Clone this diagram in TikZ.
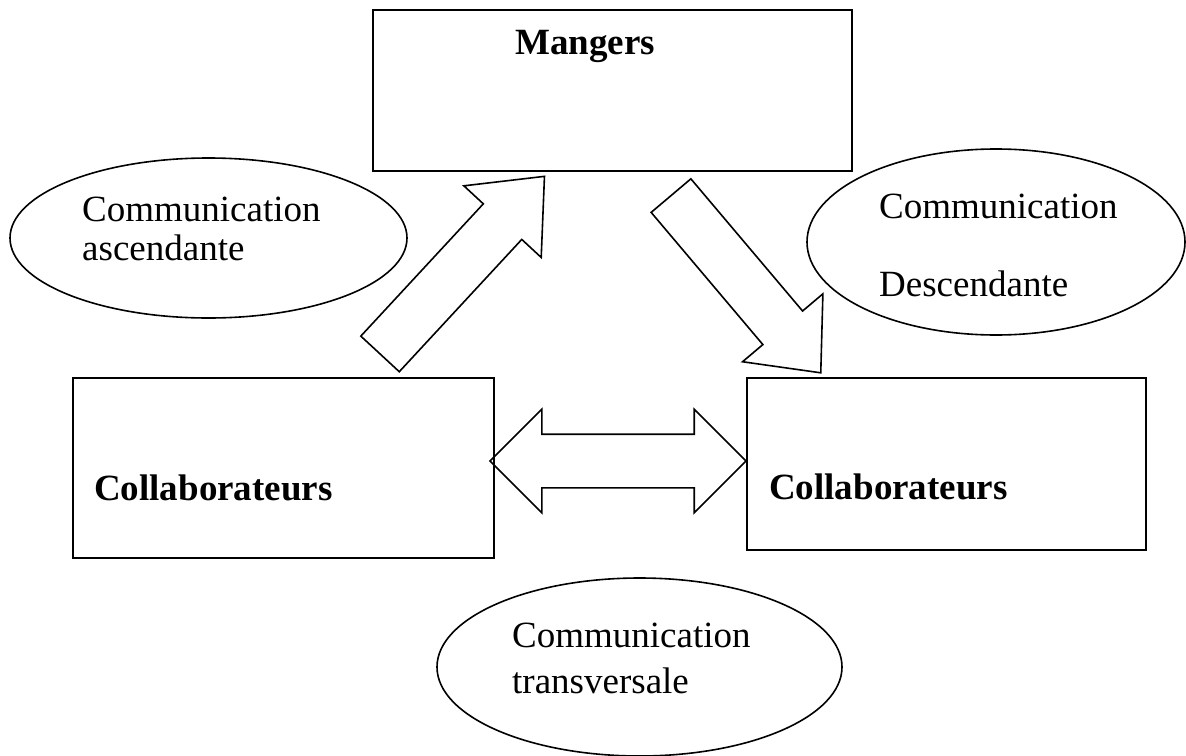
\documentclass[tikz,border=0pt]{standalone}
\usepackage{fontspec}
\setmainfont{Liberation Serif}
\usetikzlibrary{shapes.geometric,shapes.arrows}

\begin{document}
\begin{tikzpicture}[
  x=1pt, y=-1pt,
  every node/.style={font=\fontsize{37}{39}\selectfont, inner sep=0pt},
  unit/.style={draw, rectangle, line width=2pt},
  unitname/.style={font=\fontsize{37}{39}\selectfont\bfseries, anchor=base west},
  bubble/.style={draw, ellipse, line width=1.6pt},
  bubbletext/.style={align=left, anchor=base west},
  flow/.style={draw, line width=1.6pt, inner xsep=0pt}
]
  \useasboundingbox (0,0) rectangle (1186,755);

  % the three groups
  \node[unit, minimum width=479, minimum height=161] (mgr) at (612.5,90.5) {};
  \node[unit, minimum width=421, minimum height=180] (colleft) at (283.5,468) {};
  \node[unit, minimum width=399, minimum height=172] (colright) at (946.5,464) {};

  \node[unitname] (mgrname) at ([shift={(143,45)}]mgr.north west) {Mangers};
  \node[unitname] (colleftname) at ([shift={(22,123)}]colleft.north west) {Collaborateurs};
  \node[unitname] (colrightname) at ([shift={(23,122)}]colright.north west) {Collaborateurs};

  % the three kinds of communication
  \node[bubble, minimum width=397, minimum height=160] (asc) at (208.5,238) {};
  \node[bubble, minimum width=378, minimum height=186] (desc) at (996,242) {};
  \node[bubble, minimum width=405, minimum height=178] (trans) at (639.5,667) {};

  \node[bubbletext] (asctext) at (82,260) {Communication\\ascendante};
  \node[bubbletext] (desctext) at (879,296) {Communication\\[39pt]Descendante};
  \node[bubbletext] (transtext) at (512,693) {Communication\\[7pt]transversale};

  % block arrows
  \node[flow, single arrow, inner ysep=25.4pt, single arrow head extend=26.5pt,
        single arrow tip angle=81, minimum height=242, rotate=47.2, anchor=tail]
        (upflow) at (379.5,354.5) {};
  \node[flow, single arrow, inner ysep=25.2pt, single arrow head extend=26.6pt,
        single arrow tip angle=83.5, minimum height=232, rotate=-49.8, anchor=tail]
        (downflow) at (670.5,195) {};
  \node[flow, double arrow, inner ysep=26pt, double arrow head extend=25pt,
        double arrow tip angle=90, minimum height=256]
        (sideflow) at (618,461) {};
\end{tikzpicture}
\end{document}
